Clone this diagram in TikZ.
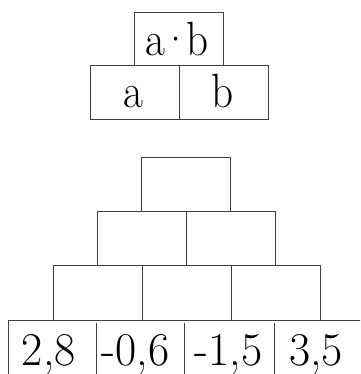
\documentclass[tikz,border=0pt]{standalone}
\begin{document}
\begin{tikzpicture}[x=1pt,y=-1pt,
  cell/.style={draw=black!75, line width=0.9pt, inner sep=0pt, outer sep=0pt, anchor=north west},
  lbl/.style={anchor=base, inner sep=0pt, font=\fontsize{48}{50}\selectfont, xscale=0.9},
  num/.style={anchor=base, inner sep=0pt, font=\fontsize{47}{50}\selectfont, xscale=0.98},
  edge/.style={draw=black!75, line width=0.9pt}]
\useasboundingbox (0,0) rectangle (360,374);
\clip (0,0) rectangle (360,374);
% legend pyramid
\node[cell, minimum width=89.3pt, minimum height=53.7pt] (top) at (134,12) {};
\node[cell, minimum width=88.6pt, minimum height=53.6pt] (ca) at (90.7,65.7) {};
\node[cell, minimum width=89pt, minimum height=53.6pt] (cb) at (179.3,65.7) {};
\node[lbl] (tab) at (177,55.5) {a\kern-6pt·\kern-6pt b};
\node[lbl] (ta) at (133.7,107.3) {a};
\node[lbl] (tb) at (222.5,107.3) {b};
% main pyramid
\node[cell, minimum width=89pt, minimum height=54.4pt] (p1) at (141.3,157.3) {};
\node[cell, minimum width=89.4pt, minimum height=53.3pt] (p21) at (97.3,211.7) {};
\node[cell, minimum width=89pt, minimum height=53.3pt] (p22) at (186.7,211.7) {};
\node[cell, minimum width=89.4pt, minimum height=55.7pt] (p31) at (53.3,265) {};
\node[cell, minimum width=88.6pt, minimum height=55.7pt] (p32) at (142.7,265) {};
\node[cell, minimum width=89.4pt, minimum height=55.7pt] (p33) at (231.3,265) {};
% bottom row
\coordinate (bl) at (8,320.7);
\coordinate (br) at (362,320.7);
\coordinate (blb) at (8,376);
\coordinate (d1t) at (96,323); \coordinate (d1b) at (96,376);
\coordinate (d2t) at (184,323); \coordinate (d2b) at (184,376);
\coordinate (d3t) at (274.5,323); \coordinate (d3b) at (274.5,376);
\draw[edge] (blb) -- (bl) -- (br);
\draw[edge] (d1t) -- (d1b);
\draw[edge] (d2t) -- (d2b);
\draw[edge] (d3t) -- (d3b);
\node[num] (n1) at (48.8,365) {2,8};
\node[num] (n2) at (135.5,365) {-0,6};
\node[num] (n3) at (228.5,365) {-1,5};
\node[num] (n4) at (316,365) {3,5};
\end{tikzpicture}
\end{document}
